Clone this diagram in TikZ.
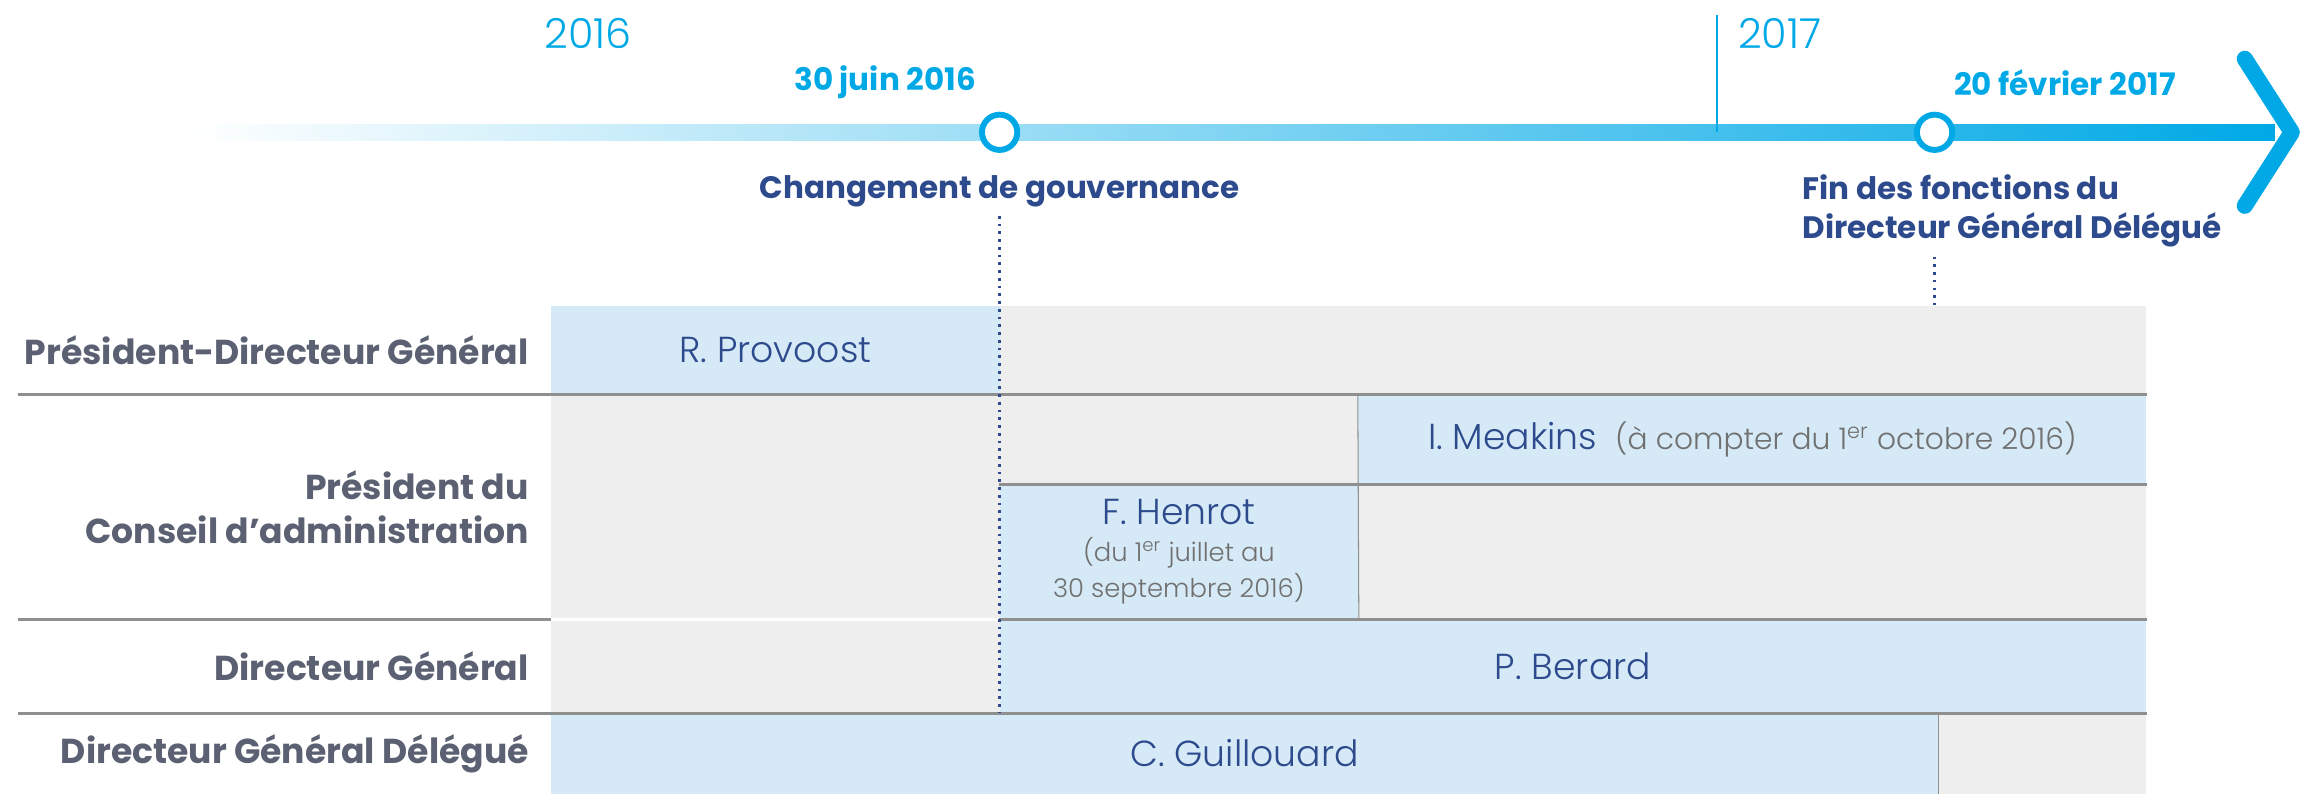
\documentclass[tikz,border=0pt]{standalone}
\usepackage{fontspec}
\setmainfont{Poppins}
\newfontfamily\lightfont{Poppins Light}
\usepackage{tikz}
\usetikzlibrary{positioning, calc}

\definecolor{tlcyan}{HTML}{00A9E6}
\definecolor{navy}{HTML}{2D4A8C}
\definecolor{labelgray}{HTML}{5B6172}
\definecolor{notegray}{HTML}{707070}
\definecolor{cellblue}{HTML}{D5E9F6}
\definecolor{cellgray}{HTML}{EEEEEE}
\definecolor{linegray}{HTML}{8F8F8F}

\newcommand{\smallnote}[2][10]{{\lightfont\fontsize{#1}{14.2}\selectfont\color{notegray}#2}}

\begin{document}
\begin{tikzpicture}[
    held/.style={rectangle, fill=cellblue, inner sep=0pt, text=navy, align=center, font=\lightfont\fontsize{14}{14.2}\selectfont},
    vacant/.style={rectangle, fill=cellgray, inner sep=0pt},
    role/.style={anchor=east, inner sep=0pt, align=right, text=labelgray, font=\bfseries\fontsize{13.4}{17}\selectfont},
    date/.style={text=tlcyan, font=\bfseries\fontsize{12}{14}\selectfont},
    event/.style={text=navy, align=left, font=\bfseries\fontsize{12}{15.4}\selectfont},
    year/.style={anchor=base west, inner sep=0pt, text=tlcyan, font=\lightfont\fontsize{16}{18}\selectfont},
    milestone/.style={circle, draw=tlcyan, fill=white, line width=0.08cm, minimum size=0.48cm, inner sep=0pt},
    rowline/.style={draw=linegray, line width=0.9pt},
    colline/.style={draw=linegray, line width=0.4pt},
    guide/.style={draw=navy, dotted, line width=1pt}
]
\useasboundingbox (0,0) rectangle (31.36,-10.8);

% Timeline
\coordinate (tlstart) at (2.56,-1.8);
\coordinate (tlend) at (30.95,-1.8);
\shade[left color=white, right color=tlcyan] ($(tlstart)+(0,0.11)$) rectangle ($(tlend)-(0,0.11)$);
\draw[tlcyan, line width=0.22cm, line cap=round, line join=round] (30.54,-0.8) -- (31.18,-1.8) -- (30.54,-2.8);
\coordinate (ticktop) at (23.36,-0.2);
\draw[tlcyan, line width=0.6pt] (ticktop) -- (ticktop |- tlstart);
\node[year] (y2016) at (7.4,-0.66) {2016};
\node[year] (y2017) at (23.64,-0.66) {2017};

\node[milestone] (juin) at (13.6,-1.8) {};
\node[milestone] (fev) at (26.32,-1.8) {};
\node[date, anchor=east] (juintxt) at (13.4,-1.12) {30 juin 2016};
\node[date, anchor=west] (fevtxt) at (26.46,-1.12) {20 février 2017};
\node[event] (chg) at (13.6,-2.6) {Changement de gouvernance};
\node[event, anchor=west] (fin) at (24.4,-2.87) {Fin des fonctions du\\Directeur Général Délégué};

% Row 1 - PDG
\node[held, minimum width=6.1cm, minimum height=1.2cm] (provoost) at (10.55,-4.76) {R. Provoost};
\node[vacant, minimum width=15.6cm, minimum height=1.2cm] (pdgrest) at (21.4,-4.76) {};

% Row 2 - President du CA
\node[vacant, minimum width=6.1cm, minimum height=3.06cm] (pcaleft) at (10.55,-6.89) {};
\node[vacant, minimum width=4.88cm, minimum height=1.24cm] (pcagap) at (16.04,-5.98) {};
\node[held, minimum width=10.72cm, minimum height=1.24cm] (meakins) at (23.84,-5.98) {I. Meakins\enspace\smallnote[11.5]{(à compter du 1\textsuperscript{er} octobre 2016)}};
\node[held, minimum width=4.88cm, minimum height=1.82cm] (henrot) at (16.04,-7.51) {F. Henrot\\\smallnote{(du 1\textsuperscript{er} juillet au}\\\smallnote{30 septembre 2016)}};
\node[vacant, minimum width=10.72cm, minimum height=1.82cm] (pcarest) at (23.84,-7.51) {};

% Row 3 - DG
\node[vacant, minimum width=6.1cm, minimum height=1.28cm] (dgleft) at (10.55,-9.06) {};
\node[held, minimum width=15.6cm, minimum height=1.28cm] (berard) at (21.4,-9.06) {P. Berard};

% Row 4 - DGD
\node[held, minimum width=18.86cm, minimum height=1.1cm] (guillouard) at (16.93,-10.25) {C. Guillouard};
\node[vacant, minimum width=2.84cm, minimum height=1.1cm] (dgdrest) at (27.78,-10.25) {};

% Role labels
\node[role] (pdg) at (7.2,-4.76) {Président-Directeur Général};
\node[role] (pca) at (7.2,-6.9) {Président du\\Conseil d’administration};
\node[role] (dg) at (7.2,-9.06) {Directeur Général};
\node[role] (dgd) at (7.2,-10.25) {Directeur Général Délégué};

% Lines
\coordinate (margin) at (0.24,0);
\draw[rowline] (margin |- provoost.south) -- (pdgrest.south east);
\draw[rowline] (henrot.north west) -- (pcarest.north east);
\draw[rowline] (margin |- pcaleft.south) -- (pcaleft.south west);
\draw[white, line width=0.9pt] (pcaleft.south west) -- (pcaleft.south east);
\draw[rowline] (henrot.south west) -- (pcarest.south east);
\draw[rowline] (margin |- berard.south) -- (berard.south east);
\draw[colline] (meakins.north west) -- (henrot.south east);
\draw[colline] (guillouard.north east) -- (guillouard.south east);

% Guides
\coordinate (dgdtop) at (juin |- berard.south);
\draw[guide] (chg.south) -- (dgdtop);
\draw[guide] (fin.south -| fev) -- (fev |- pdgrest.north);

\end{tikzpicture}
\end{document}
